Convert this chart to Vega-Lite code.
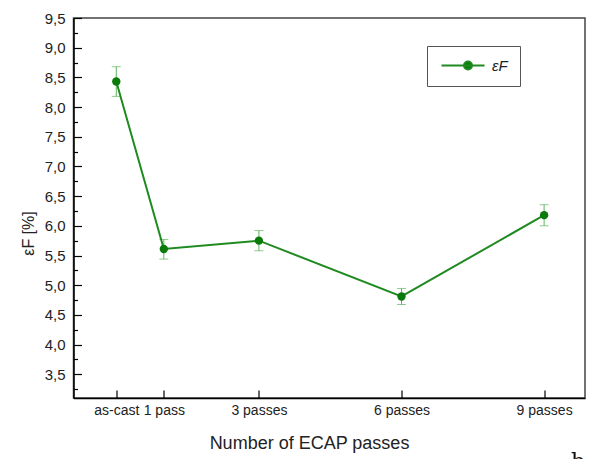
{
  "$schema": "https://vega.github.io/schema/vega-lite/v6.json",
  "width": 511.5,
  "height": 380,
  "autosize": "none",
  "padding": {"left": 73.5, "top": 18, "right": 4, "bottom": 61},
  "title": {"text": "b", "orient": "bottom", "anchor": "end", "font": "DejaVu Serif", "fontSize": 22, "fontWeight": "normal", "color": "#111", "offset": 0},
  "config": {
    "font": "Liberation Sans",
    "view": {"stroke": "#444", "strokeWidth": 1.5},
    "axis": {"grid": false, "domainColor": "#000", "domainWidth": 1.5, "tickColor": "#000", "tickWidth": 1.2,
             "labelFontSize": 15, "labelColor": "#222", "titleFontSize": 17, "titleFontWeight": "normal", "titleColor": "#222"}
  },
  "resolve": {"axis": {"y": "independent"}},
  "data": {"values": [
    {"pass": 0, "value": 8.43, "lo": 8.18, "hi": 8.68, "series": "εF"},
    {"pass": 1, "value": 5.61, "lo": 5.44, "hi": 5.77, "series": "εF"},
    {"pass": 3, "value": 5.75, "lo": 5.58, "hi": 5.92, "series": "εF"},
    {"pass": 6, "value": 4.81, "lo": 4.675, "hi": 4.945, "series": "εF"},
    {"pass": 9, "value": 6.18, "lo": 6.0, "hi": 6.355, "series": "εF"}
  ]},
  "layer": [
    {
      "mark": {"type": "errorbar", "ticks": {"size": 9, "thickness": 1, "color": "#5fb55f"}, "rule": {"color": "#5fb55f", "strokeWidth": 1}},
      "encoding": {
        "x": {"field": "pass", "type": "quantitative", "scale": {"domain": [-0.9, 9.86], "nice": false, "zero": false},
              "axis": {"values": [0, 1, 3, 6, 9], "tickSize": -8, "labelPadding": 13, "labelFlush": false, "labelOverlap": false, "labelFontSize": 14,
                       "labelExpr": "datum.value == 0 ? 'as-cast' : datum.value == 1 ? '1 pass' : datum.value + ' passes'",
                       "title": "Number of ECAP passes", "titleFontSize": 18, "titleX": 235.5, "titleY": 45, "titleAlign": "center", "titleBaseline": "middle"}},
        "y": {"field": "lo", "type": "quantitative", "scale": {"domain": [3.1, 9.5], "nice": false, "zero": false},
              "axis": {"orient": "left", "values": [3.5,4,4.5,5,5.5,6,6.5,7,7.5,8,8.5,9,9.5],
                       "tickSize": -8, "labelPadding": 16.5, "labelFlush": false, "labelOverlap": false, "labelFontSize": 15,
                       "labelExpr": "replace(format(datum.value, '.1f'), '.', ',')",
                       "title": "εF [%]", "titleFontSize": 16, "titleX": -45, "titleY": 215, "titleAlign": "center", "titleBaseline": "middle", "titleAngle": -90}},
        "y2": {"field": "hi"}
      }
    },
    {
      "mark": {"type": "line", "strokeWidth": 2},
      "encoding": {
        "x": {"field": "pass", "type": "quantitative"},
        "y": {"field": "value", "type": "quantitative", "axis": null},
        "color": {"field": "series", "type": "nominal", "scale": {"range": ["#1f8a1f"]},
                  "legend": {"orient": "none", "legendX": 353.5, "legendY": 28, "title": null, "strokeColor": "#555", "fillColor": "#fff",
                             "padding": 12, "symbolSize": 100,
                             "symbolType": "M-1,0H7.6M5.1,0A0.8,0.8,0,1,1,3.5,0A0.8,0.8,0,1,1,5.1,0Z",
                             "symbolFillColor": "#0a7a0a", "symbolStrokeColor": "#1f8a1f", "symbolStrokeWidth": 2,
                             "labelOffset": 38, "labelFontSize": 15, "labelFontStyle": "italic", "labelColor": "#222"}}
      }
    },
    {
      "mark": {"type": "point", "filled": true, "size": 70, "opacity": 1, "color": "#0a7a0a"},
      "encoding": {
        "x": {"field": "pass", "type": "quantitative"},
        "y": {"field": "value", "type": "quantitative",
              "axis": {"orient": "left", "values": [3.25,3.75,4.25,4.75,5.25,5.75,6.25,6.75,7.25,7.75,8.25,8.75,9.25],
                       "tickSize": -4, "labels": false, "domain": false, "title": null}}
      }
    }
  ]
}
